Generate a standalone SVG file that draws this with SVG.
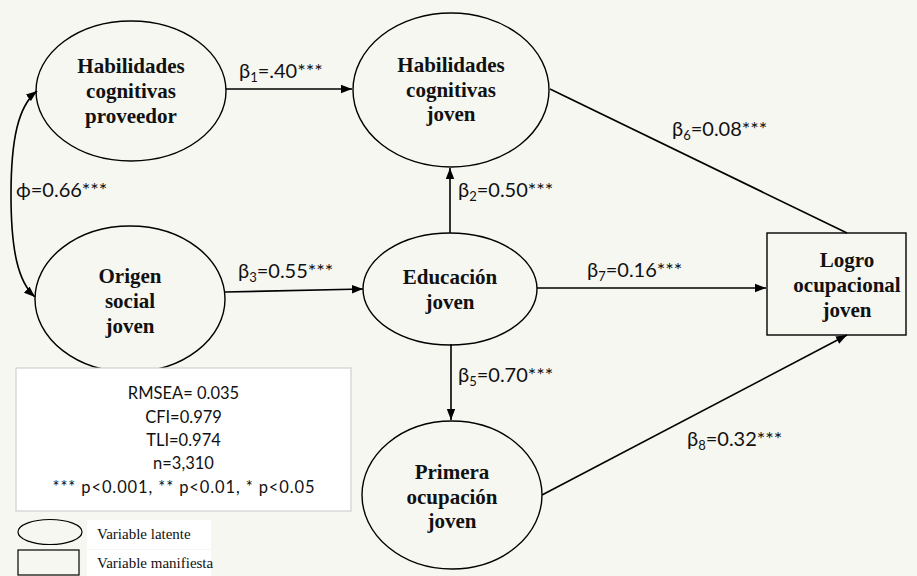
<svg xmlns="http://www.w3.org/2000/svg" width="917" height="576" viewBox="0 0 917 576">
<defs>
<marker id="arr" markerUnits="userSpaceOnUse" markerWidth="12" markerHeight="10" refX="11" refY="5" orient="auto-start-reverse">
<path d="M0,0.8 L11,5 L0,9.2 Z" fill="#000"/>
</marker>
</defs>
<style>
.node{fill:none;stroke:#000;stroke-width:1.4}
.nt{font-family:"Liberation Serif","Times New Roman",serif;font-weight:bold;font-size:21px;text-anchor:middle;fill:#111}
.el{font-family:Lato,"Liberation Sans",sans-serif;font-size:20px;fill:#111}
.sub{font-size:13px}
.ln{fill:none;stroke:#000;stroke-width:1.6}
.lg{font-family:Lato,"Liberation Sans",sans-serif;font-size:16.5px;text-anchor:middle;fill:#111}
.lk{font-family:"Liberation Serif","Times New Roman",serif;font-size:15px;fill:#111}
</style>
<rect x="0" y="0" width="917" height="576" fill="#f7f7f1"/>

<g id="connectors">
<line class="ln" x1="226" y1="89" x2="352" y2="89" marker-end="url(#arr)"/>
<path class="ln" d="M37,91 C18,106 11,140 11,195 C11,250 18,282 35,297" marker-start="url(#arr)" marker-end="url(#arr)"/>
<line class="ln" x1="225" y1="292" x2="363" y2="289" stroke-width="2" marker-end="url(#arr)"/>
<line class="ln" x1="450" y1="233" x2="450" y2="168" marker-end="url(#arr)"/>
<line class="ln" x1="550" y1="89" x2="847" y2="233" stroke-width="1.2"/>
<line class="ln" x1="537" y1="288" x2="766" y2="288" stroke-width="2" marker-end="url(#arr)"/>
<line class="ln" x1="451" y1="344" x2="451" y2="420" marker-end="url(#arr)"/>
<line class="ln" x1="542" y1="495" x2="847" y2="335" stroke-width="2" marker-end="url(#arr)"/>
<text class="el" x="239" y="78">β<tspan class="sub" dy="4">1</tspan><tspan dy="-4">=.40***</tspan></text>
<text class="el" x="16" y="197">ϕ=0.66***</text>
<text class="el" x="238" y="278">β<tspan class="sub" dy="4">3</tspan><tspan dy="-4">=0.55***</tspan></text>
<text class="el" x="458" y="197">β<tspan class="sub" dy="4">2</tspan><tspan dy="-4">=0.50***</tspan></text>
<text class="el" x="672" y="136">β<tspan class="sub" dy="4">6</tspan><tspan dy="-4">=0.08***</tspan></text>
<text class="el" x="587" y="277">β<tspan class="sub" dy="4">7</tspan><tspan dy="-4">=0.16***</tspan></text>
<text class="el" x="458" y="382">β<tspan class="sub" dy="4">5</tspan><tspan dy="-4">=0.70***</tspan></text>
<text class="el" x="687" y="446">β<tspan class="sub" dy="4">8</tspan><tspan dy="-4">=0.32***</tspan></text>
</g>

<g id="hab-proveedor">
<ellipse class="node" cx="131" cy="91" rx="95" ry="70"/>
<text class="nt" x="131" y="73">Habilidades</text>
<text class="nt" x="131" y="98">cognitivas</text>
<text class="nt" x="131" y="123">proveedor</text>
</g>

<g id="hab-joven">
<ellipse class="node" cx="451" cy="90" rx="98" ry="77"/>
<text class="nt" x="451" y="72">Habilidades</text>
<text class="nt" x="451" y="97">cognitivas</text>
<text class="nt" x="451" y="121">joven</text>
</g>

<g id="origen">
<ellipse class="node" cx="130" cy="299" rx="95" ry="73"/>
<text class="nt" x="130" y="283">Origen</text>
<text class="nt" x="130" y="308">social</text>
<text class="nt" x="130" y="333">joven</text>
</g>

<g id="educacion">
<ellipse class="node" cx="450" cy="289" rx="87" ry="56"/>
<text class="nt" x="450" y="284">Educación</text>
<text class="nt" x="450" y="309">joven</text>
</g>

<g id="primera">
<ellipse class="node" cx="452" cy="495" rx="90" ry="74"/>
<text class="nt" x="452" y="479">Primera</text>
<text class="nt" x="452" y="504">ocupación</text>
<text class="nt" x="452" y="528">joven</text>
</g>

<g id="logro">
<rect class="node" x="767" y="233" width="139" height="102"/>
<text class="nt" x="847" y="267">Logro</text>
<text class="nt" x="847" y="292">ocupacional</text>
<text class="nt" x="847" y="317">joven</text>
</g>

<g id="stats">
<rect x="16" y="368" width="335" height="143" fill="#fff" stroke="#c8c8c8" stroke-width="1"/>
<text class="lg" x="183.5" y="399">RMSEA= 0.035</text>
<text class="lg" x="183.5" y="423">CFI=0.979</text>
<text class="lg" x="183.5" y="446">TLI=0.974</text>
<text class="lg" x="183.5" y="469">n=3,310</text>
<text class="lg" x="183.5" y="493" textLength="262" lengthAdjust="spacing">*** p&lt;0.001, ** p&lt;0.01, * p&lt;0.05</text>
</g>

<g id="legend">
<ellipse cx="50" cy="532" rx="32" ry="12.5" fill="none" stroke="#000" stroke-width="1.2"/>
<rect x="87" y="520" width="124" height="29" fill="#fff"/>
<text class="lk" x="97" y="539">Variable latente</text>
<rect x="18" y="550" width="61" height="25" fill="none" stroke="#000" stroke-width="1.2"/>
<rect x="87" y="550" width="124" height="26" fill="#fff"/>
<text class="lk" x="97" y="568">Variable manifiesta</text>
</g>
</svg>
